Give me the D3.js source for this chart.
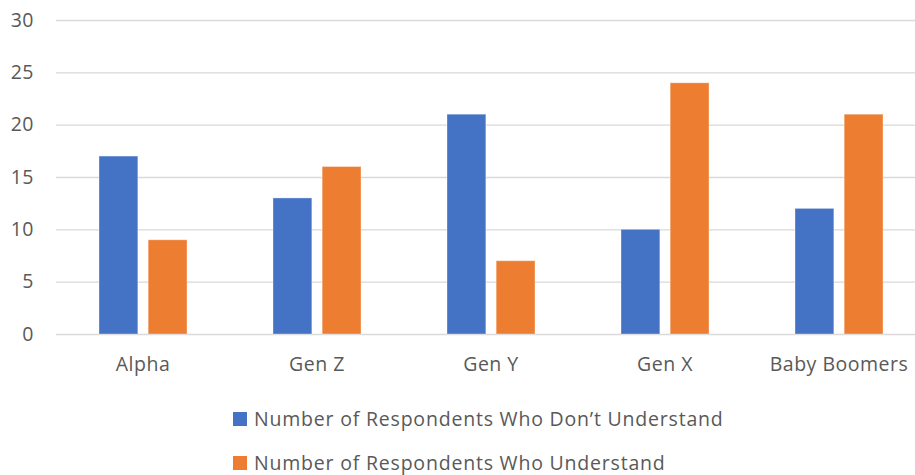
<!DOCTYPE html>
<html>
<head>
<meta charset="utf-8">
<script src="https://cdn.jsdelivr.net/npm/d3@7"></script>
<style>
  html, body { margin: 0; padding: 0; background: #fff; }
  svg { display: block; }
  text { font-family: "Open Sans", "Noto Sans", sans-serif; fill: #595959; }
</style>
</head>
<body>
<svg id="chart" width="915" height="475"></svg>
<script>
const categories = ["Alpha", "Gen Z", "Gen Y", "Gen X", "Baby Boomers"];
const seriesNames = ["Number of Respondents Who Don\u2019t Understand", "Number of Respondents Who Understand"];
const dontUnderstand = [17, 13, 21, 10, 12];
const understand = [9, 16, 7, 24, 21];
const yTicks = [0, 5, 10, 15, 20, 25, 30];
const colors = ["#4472C4", "#ED7D31"];

const seriesValues = [dontUnderstand, understand];
const svg = d3.select("#chart");
const FONT = '"Open Sans", "Noto Sans", sans-serif';
const FS = 19.5, LS = 0.5, LEG_LS = 0.8;

const left = 56, bandW = 174;
const x0 = d3.scaleBand().domain(categories).range([left, left + bandW * categories.length]).padding(0);
const groupHalf = 44;
const x1 = d3.scaleBand().domain(d3.range(seriesNames.length))
  .range([x0.bandwidth() / 2 - groupHalf, x0.bandwidth() / 2 + groupHalf]).paddingInner(0.21);
const y = d3.scaleLinear().domain([0, 30]).range([334, 20]);

// gridlines
const yAxis = d3.axisLeft(y).tickValues(yTicks).tickSize(-(915 - left)).tickPadding(22);
const gy = svg.append("g").attr("transform", `translate(${left},0)`).call(yAxis);
gy.select(".domain").remove();
gy.selectAll(".tick line").attr("stroke", "#d9d9d9").attr("stroke-width", 1.3);
gy.selectAll(".tick text").attr("font-size", FS).attr("fill", "#595959")
  .attr("font-family", FONT).attr("letter-spacing", LS);

// bars
const groups = svg.append("g").selectAll("g").data(categories).join("g")
  .attr("transform", d => `translate(${x0(d)},0)`);
groups.selectAll("rect")
  .data((d, i) => seriesValues.map((vals, s) => ({ s, v: vals[i] })))
  .join("rect")
  .attr("x", d => x1(d.s))
  .attr("width", x1.bandwidth())
  .attr("y", d => y(d.v))
  .attr("height", d => y(0) - y(d.v))
  .attr("fill", d => colors[d.s])
  .attr("stroke", "#ffffff").attr("stroke-opacity", 0.35).attr("stroke-width", 1);

// x axis labels
const xAxis = d3.axisBottom(x0).tickSize(0).tickPadding(0);
const gx = svg.append("g").attr("transform", `translate(0,${y(0)})`).call(xAxis);
gx.select(".domain").remove();
gx.selectAll(".tick text").attr("font-size", FS).attr("fill", "#595959")
  .attr("font-family", FONT).attr("letter-spacing", LS)
  .attr("dy", null).attr("y", 37);

// legend
const legend = svg.append("g").selectAll("g").data(seriesNames).join("g")
  .attr("transform", (d, i) => `translate(233,${419 + i * 44})`);
legend.append("rect").attr("x", 0).attr("y", -7).attr("width", 14).attr("height", 14)
  .attr("fill", (d, i) => colors[i]);
legend.append("text").attr("x", 21).attr("y", 0).attr("dy", "0.35em")
  .attr("font-size", FS).attr("letter-spacing", LEG_LS).text(d => d);
</script>
</body>
</html>
